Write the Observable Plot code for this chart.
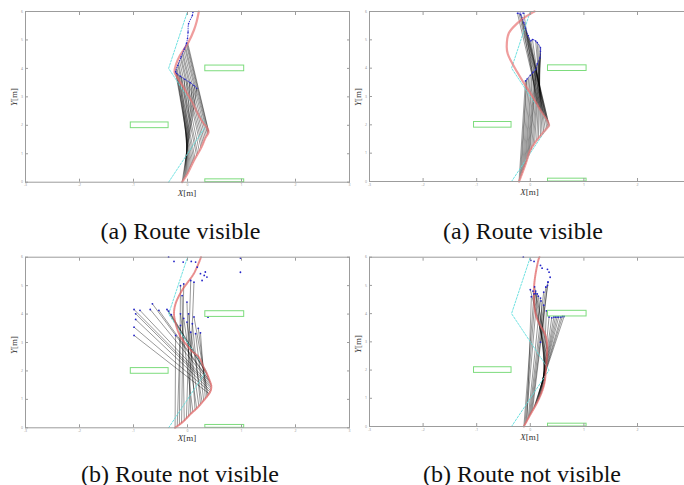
<!DOCTYPE html>
<html>
<head>
<meta charset="utf-8">
<script src="https://cdn.jsdelivr.net/npm/d3@7"></script>
<script src="https://cdn.jsdelivr.net/npm/@observablehq/plot@0.6"></script>
<style>
  html, body { margin: 0; padding: 0; background: #fff; overflow: hidden; }
  #page { position: relative; width: 684px; height: 485px; overflow: hidden; background: #fff; }
  .panel { position: absolute; overflow: hidden; height: 200px; }
  .cap { position: absolute; width: 320px; text-align: center; font-family: "Liberation Serif", serif; font-size: 24px; line-height: 24px; color: #111; white-space: nowrap; }
  .al { position: absolute; font-family: "Liberation Serif", serif; font-size: 9px; line-height: 9px; color: #333; white-space: nowrap; transform: translate(-50%, -50%); }
  .al.y { transform: translate(-50%, -50%) rotate(-90deg); }
</style>
</head>
<body>
<div id="page"></div>
<script>
// ---------- data ----------
const xTicks = [-3, -2, -1, 0, 1, 2, 3];
const yTicks = [0, 1, 2, 3, 4, 5, 6];
const captions = ["(a) Route visible", "(a) Route visible", "(b) Route not visible", "(b) Route not visible"];

// reference route (cyan dashed)
const route = [[-0.35, 0], [0.35, 2], [-0.35, 4], [0, 6]];
// obstacles (green boxes)
const obstacles = [
  {x1: 0.33, x2: 1.05, y1: 3.9, y2: 4.1},
  {x1: -1.05, x2: -0.35, y1: 1.9, y2: 2.1},
  {x1: 0.33, x2: 1.05, y1: 0.0, y2: 0.1}
];

// ---- panel (a) left ----
const red1 = [[-0.10,0.00],[0.00,0.30],[0.12,0.76],[0.25,1.20],[0.33,1.55],[0.39,1.76],[0.35,1.95],[0.28,2.12],[0.10,2.75],[-0.08,3.35],[-0.19,3.69],[-0.24,3.88],[-0.21,4.15],[-0.14,4.45],[-0.06,4.69],[0.02,4.93],[0.12,5.35],[0.17,5.65],[0.21,6.00]];
const blue1 = [[0.17,3.30],[0.12,3.40],[0.05,3.50],[-0.05,3.62],[-0.13,3.72],[-0.20,3.82],[-0.22,3.88],[-0.18,4.10],[-0.12,4.40],[-0.06,4.68],[-0.02,4.88],[0.00,5.05],[0.01,5.27],[0.02,5.57],[0.09,5.86],[0.10,5.98]];
const links1 = [
  [-0.10,0.00,0.17,3.30],[-0.08,0.06,0.13,3.37],[-0.06,0.12,0.09,3.44],[-0.04,0.18,0.04,3.50],
  [-0.02,0.24,-0.01,3.56],[0.00,0.30,-0.06,3.63],[0.02,0.37,-0.11,3.70],[0.04,0.45,-0.15,3.75],
  [0.06,0.53,-0.19,3.80],[0.08,0.61,-0.22,3.86],[0.10,0.68,-0.22,3.92],[0.12,0.76,-0.21,3.99],
  [0.14,0.83,-0.20,4.06],[0.17,0.92,-0.18,4.14],[0.19,1.00,-0.17,4.21],[0.22,1.09,-0.15,4.29],
  [0.25,1.20,-0.13,4.37],[0.27,1.29,-0.12,4.44],[0.29,1.37,-0.10,4.51],[0.31,1.46,-0.09,4.58],
  [0.33,1.55,-0.07,4.65],[0.35,1.62,-0.05,4.72],[0.37,1.68,-0.04,4.78],[0.38,1.72,-0.02,4.83],
  [0.39,1.76,-0.01,4.88],[0.39,1.80,0.00,4.92]
];

// ---- panel (a) right ----
const red2 = [[-0.21,0.00],[-0.10,0.55],[0.00,1.10],[0.12,1.45],[0.22,1.68],[0.31,1.88],[0.35,1.98],[0.30,2.20],[0.19,2.50],[0.04,3.00],[-0.12,3.47],[-0.25,3.88],[-0.34,4.18],[-0.42,4.50],[-0.44,4.76],[-0.40,5.24],[-0.24,5.59],[-0.10,5.80],[0.04,5.96],[0.08,6.00]];
const blue2 = [[-0.09,3.55],[-0.06,3.62],[0.00,3.75],[0.05,3.85],[0.10,3.95],[0.13,4.15],[0.18,4.37],[0.19,4.60],[0.19,4.72],[0.13,4.90],[0.10,4.96],[0.04,5.01],[0.01,4.96],[-0.04,5.15],[-0.09,5.42],[-0.12,5.60],[-0.18,5.89],[-0.24,5.94],[-0.12,5.94]];
const links2 = [
  [-0.21,0.00,-0.09,3.55],[-0.19,0.10,-0.07,3.58],[-0.17,0.20,-0.06,3.62],[-0.15,0.30,-0.03,3.68],
  [-0.13,0.40,0.00,3.75],[-0.11,0.50,0.03,3.80],[-0.09,0.60,0.05,3.85],[-0.07,0.70,0.08,3.90],
  [-0.05,0.80,0.10,3.95],[-0.03,0.90,0.12,4.05],[-0.01,1.00,0.13,4.15],[0.02,1.12,0.16,4.27],
  [0.05,1.25,0.18,4.37],[0.08,1.36,0.19,4.50],[0.12,1.45,0.19,4.60],[0.15,1.52,0.19,4.72],
  [0.19,1.60,0.16,4.82],[0.22,1.68,0.13,4.90],[0.25,1.75,0.10,4.96],[0.28,1.82,0.04,5.01],
  [0.31,1.88,0.01,4.96],[0.33,1.93,-0.02,5.06],[0.35,1.98,-0.04,5.15],[0.34,2.05,-0.07,5.30],
  [0.32,2.12,-0.09,5.42],[0.30,2.20,-0.12,5.60],[0.27,2.28,-0.15,5.75],[0.25,2.35,-0.18,5.89],
  [0.22,2.42,-0.21,5.92],[0.19,2.50,-0.24,5.94],[0.15,2.62,-0.18,5.92],[0.12,2.72,-0.12,5.94]
];

// ---- panel (b) left ----
const red3 = [[-0.23,0.00],[-0.08,0.22],[0.06,0.49],[0.19,0.72],[0.30,0.96],[0.38,1.15],[0.43,1.31],[0.44,1.48],[0.41,1.66],[0.36,1.90],[0.30,2.13],[0.21,2.48],[0.08,2.70],[-0.01,2.90],[-0.13,3.20],[-0.22,3.67],[-0.25,4.02],[-0.22,4.37],[-0.10,4.84],[-0.01,5.08],[0.12,5.43],[0.24,5.95],[0.25,6.00]];
const links3 = [
  [-0.23,0.00,-0.22,3.25],[-0.19,0.06,-0.13,3.60],[-0.15,0.11,-0.13,5.00],[-0.11,0.17,-0.07,5.06],
  [-0.06,0.25,-0.10,4.65],[-0.02,0.33,0.06,5.18],[0.02,0.41,0.12,5.12],[0.06,0.49,-0.01,4.42],
  [0.10,0.56,-0.13,4.01],[0.14,0.63,0.02,4.01],[0.17,0.69,-0.07,3.85],[0.21,0.77,-0.01,3.72],
  [0.24,0.84,0.09,3.66],[0.27,0.90,0.06,3.36],[0.30,0.96,0.15,3.31],[0.33,1.03,0.24,3.34],
  [0.36,1.10,0.20,3.50],[0.38,1.15,0.12,3.90],
  [0.40,1.20,-0.99,3.25],[0.42,1.26,-0.99,3.54],[0.43,1.31,-0.96,3.81],[0.44,1.37,-0.96,4.01],
  [0.44,1.43,-0.99,4.16],[0.44,1.48,-0.88,4.13],[0.43,1.55,-0.69,4.16],[0.42,1.61,-0.65,4.36],
  [0.41,1.66,-0.53,4.13],[0.39,1.78,-0.38,4.16],[0.36,1.90,-0.35,4.10],[0.33,2.02,-0.30,3.98]
];
const extra3 = [[-0.35,6.00],[-0.25,5.85],[-0.08,5.83],[0.07,5.85],[0.15,5.83],[0.18,5.65],[0.24,5.42],[0.31,5.36],[0.36,5.30],[0.27,5.18],[0.33,5.48],[0.98,5.97],[0.98,5.47],[0.38,3.89]];

// ---- panel (b) right ----
const red4 = [[-0.12,0.00],[0.00,0.42],[0.13,0.86],[0.22,1.25],[0.27,1.60],[0.29,2.00],[0.31,2.50],[0.31,3.00],[0.27,3.30],[0.18,3.60],[0.12,3.85],[0.08,4.20],[0.07,4.60],[0.07,4.95],[0.10,5.43],[0.16,5.96],[0.17,6.00]];
const links4 = [
  [-0.12,0.00,0.07,4.70],[-0.10,0.07,0.10,4.80],[-0.08,0.14,0.13,4.70],[-0.06,0.21,0.02,4.60],
  [-0.04,0.28,0.19,4.55],[-0.02,0.35,0.25,4.76],[0.00,0.42,0.29,4.94],[0.02,0.49,0.32,5.00],
  [0.04,0.56,0.33,5.12],[0.06,0.63,0.63,3.90],[0.08,0.70,0.60,3.90],[0.10,0.77,0.57,3.88],
  [0.12,0.83,0.53,3.88],[0.14,0.90,0.50,3.88],[0.16,0.98,0.47,3.88],[0.18,1.06,0.44,3.88],
  [0.20,1.15,0.40,3.85],[0.22,1.25,0.35,3.88],[0.24,1.38,0.30,4.10],[0.26,1.50,0.25,4.30],
  [0.27,1.62,0.20,4.45],[0.28,1.80,0.15,4.62],[0.29,2.00,0.10,4.72],[0.30,2.25,0.05,4.80],
  [0.31,2.50,0.00,4.85],[0.31,2.75,0.08,4.95]
];
const extra4 = [[-0.13,6.00],[0.01,5.89],[0.07,5.85],[0.19,5.71],[0.22,5.61],[0.32,5.57],[0.35,5.47],[0.37,5.29],[0.33,5.12],[0.29,4.94],[0.19,2.99]];

// ---------- drawing ----------
const page = document.getElementById("page");
const BLUE = "#2424c8";
const axisCol = "#9c9c9c";

function makePlot(cfg) {
  const marks = [
    Plot.link(cfg.links, {x1: d => d[0], y1: d => d[1], x2: d => d[2], y2: d => d[3], stroke: "#000", strokeWidth: 0.5, strokeOpacity: 0.8}),
    Plot.line(route, {x: d => d[0], y: d => d[1], stroke: "#5fdede", strokeWidth: 0.9, strokeDasharray: "2,1.5"})
  ];
  if (cfg.solidRed) {
    marks.push(Plot.line(cfg.red, {x: d => d[0], y: d => d[1], stroke: "#e87474", strokeWidth: 2.2, strokeOpacity: 0.7, curve: "catmull-rom"}));
  } else {
    marks.push(Plot.line(cfg.red, {x: d => d[0], y: d => d[1], stroke: "#e05c5c", strokeWidth: 2, strokeOpacity: 0.7, strokeDasharray: "1.2,0.8", curve: "catmull-rom"}));
  }
  if (cfg.blue) {
    marks.push(Plot.line(cfg.blue, {x: d => d[0], y: d => d[1], stroke: BLUE, strokeWidth: 0.9, strokeDasharray: "0.8,1.6", curve: "catmull-rom"}));
    marks.push(Plot.dot(cfg.blue, {x: d => d[0], y: d => d[1], r: 0.8, fill: BLUE}));
  } else {
    marks.push(Plot.dot(cfg.links, {x: d => d[2], y: d => d[3], r: 0.9, fill: BLUE}));
    marks.push(Plot.dot(cfg.extra, {x: d => d[0], y: d => d[1], r: 0.9, fill: BLUE}));
  }
  const fmtX = cfg.cutRight ? (d => d === 3 ? "" : String(d)) : (d => String(d));
  marks.push(
    Plot.rect(obstacles, {x1: "x1", x2: "x2", y1: "y1", y2: "y2", fill: "none", stroke: "#7ddc7d", strokeWidth: 1}),
    Plot.frame({stroke: axisCol, strokeWidth: 1}),
    Plot.axisX(xTicks, {anchor: "bottom", tickSize: -3, tickPadding: 4.5, fontSize: 3.5, color: axisCol, label: null, tickFormat: fmtX}),
    Plot.axisX(xTicks, {anchor: "top", tickSize: -3, tickFormat: () => "", color: axisCol, label: null}),
    Plot.axisY(yTicks, {anchor: "left", tickSize: -3, tickPadding: 5.5, fontSize: 3.5, color: axisCol, label: null}),
    Plot.axisY(yTicks, {anchor: "right", tickSize: -3, tickFormat: () => "", color: axisCol, label: null})
  );
  return Plot.plot({
    width: cfg.width, height: 200,
    marginLeft: cfg.ml, marginRight: cfg.mr, marginTop: cfg.mt, marginBottom: cfg.mb,
    x: {domain: [-3, 3]}, y: {domain: [0, 6]},
    style: {background: "transparent", maxWidth: "none", overflow: "visible"},
    marks
  });
}

const panels = [
  {left: 0, top: 0, boxW: 360, width: 360, ml: 25, mr: 11, mt: 11, mb: 18.3, red: red1, solidRed: true, blue: blue1, links: links1},
  {left: 345, top: 0, boxW: 339, width: 346, ml: 24, mr: 0.4, mt: 11, mb: 19, red: red2, solidRed: true, blue: blue2, links: links2, cutRight: true},
  {left: 0, top: 245, boxW: 360, width: 360, ml: 25, mr: 11, mt: 11.7, mb: 17.7, red: red3, solidRed: false, links: links3, extra: extra3},
  {left: 345, top: 245, boxW: 339, width: 346, ml: 24, mr: 0.4, mt: 11.7, mb: 19, red: red4, solidRed: false, links: links4, extra: extra4, cutRight: true}
];

panels.forEach(p => {
  const box = document.createElement("div");
  box.className = "panel";
  box.style.left = p.left + "px";
  box.style.top = p.top + "px";
  box.style.width = p.boxW + "px";
  box.appendChild(makePlot(p));
  page.appendChild(box);
});

// axis labels
const axisLabels = [
  {cls: "al", x: 187, y: 192.5, html: "<i>X</i>[m]"},
  {cls: "al y", x: 14, y: 97, html: "<i>Y</i>[m]"},
  {cls: "al", x: 529.5, y: 192, html: "<i>X</i>[m]"},
  {cls: "al y", x: 358, y: 97, html: "<i>Y</i>[m]"},
  {cls: "al", x: 187, y: 438, html: "<i>X</i>[m]"},
  {cls: "al y", x: 14, y: 345, html: "<i>Y</i>[m]"},
  {cls: "al", x: 529.5, y: 437, html: "<i>X</i>[m]"},
  {cls: "al y", x: 358, y: 344, html: "<i>Y</i>[m]"}
];
axisLabels.forEach(a => {
  const d = document.createElement("div");
  d.className = a.cls;
  d.style.left = a.x + "px";
  d.style.top = a.y + "px";
  d.innerHTML = a.html;
  page.appendChild(d);
});

// captions
const capPos = [[180.5, 218.5], [523, 218.5], [180, 461.5], [522, 461.5]];
captions.forEach((t, i) => {
  const d = document.createElement("div");
  d.className = "cap";
  d.style.left = (capPos[i][0] - 160) + "px";
  d.style.top = capPos[i][1] + "px";
  d.textContent = t;
  page.appendChild(d);
});
</script>
</body>
</html>
